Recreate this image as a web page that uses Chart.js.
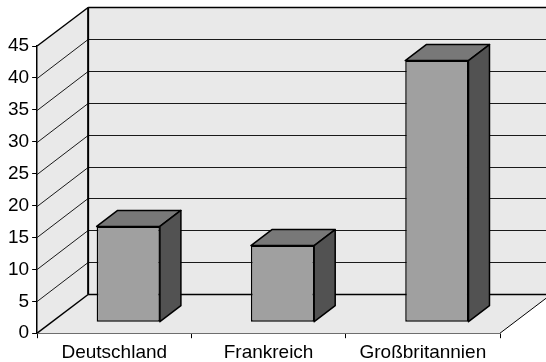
<!DOCTYPE html>
<html>
<head>
<meta charset="utf-8">
<script src="https://cdn.jsdelivr.net/npm/chart.js@4.4.1/dist/chart.umd.min.js"></script>
<style>
html, body { margin: 0; padding: 0; background: #ffffff; }
</style>
</head>
<body>
<canvas id="chart" width="546" height="362"></canvas>
<script>
var countries = ["Deutschland", "Frankreich", "Großbritannien"];
var values = [15, 12, 41];
var yMax = 45;
var yStep = 5;

// box depth (front plane -> back wall) and bar placement inside it
var depthX = 51, depthY = -39;
var barShiftX = 14, barShiftY = -11;
var barDepthX = 21, barDepthY = -16;

var wallColor = "#e9e9e9";
var barFront = "#a0a0a0";
var barTop = "#787878";
var barSide = "#525252";
var fontFamily = "'Liberation Sans', Arial, sans-serif";

function poly(ctx, pts) {
  ctx.beginPath();
  ctx.moveTo(pts[0][0], pts[0][1]);
  for (var i = 1; i < pts.length; i++) ctx.lineTo(pts[i][0], pts[i][1]);
  ctx.closePath();
}

function line(ctx, x1, y1, x2, y2) {
  ctx.beginPath();
  ctx.moveTo(x1, y1);
  ctx.lineTo(x2, y2);
  ctx.stroke();
}

// walls, floor and grid of the 3d box
var box3d = {
  id: "box3d",
  beforeDraw: function (chart) {
    var ctx = chart.ctx;
    var xs = chart.scales.x, ys = chart.scales.y;
    var left = xs.left, right = xs.right;
    var top = ys.getPixelForValue(yMax), bottom = ys.getPixelForValue(0);
    var farRight = chart.width + 10;

    ctx.save();
    ctx.fillStyle = wallColor;
    ctx.fillRect(left + depthX, top + depthY, farRight, bottom - top);
    poly(ctx, [[left, top], [left + depthX, top + depthY], [left + depthX, bottom + depthY], [left, bottom]]);
    ctx.fill();
    poly(ctx, [[left, bottom], [right, bottom], [right + depthX, bottom + depthY], [left + depthX, bottom + depthY]]);
    ctx.fill();

    // grid lines on back and side wall
    ctx.strokeStyle = "#1a1a1a";
    ctx.lineWidth = 1;
    for (var v = yStep; v < yMax; v += yStep) {
      var y = Math.round(ys.getPixelForValue(v)) + 0.5;
      line(ctx, left + depthX, y + depthY, farRight, y + depthY);
      line(ctx, left, y, left + depthX, y + depthY);
    }

    // box edges
    ctx.strokeStyle = "#000000";
    ctx.lineWidth = 1.5;
    var by = Math.round(bottom + depthY) + 0.5;
    var ty = Math.round(top + depthY) + 0.5;
    line(ctx, left + depthX, by, farRight, by);
    line(ctx, left + depthX, ty, farRight, ty);
    line(ctx, left, top, left + depthX, ty);
    line(ctx, left, bottom, left + depthX, by);
    ctx.lineWidth = 2;
    line(ctx, left + depthX, ty, left + depthX, by);
    ctx.lineWidth = 1;
    line(ctx, right, bottom, right + depthX, by);
    ctx.restore();
  },
  beforeDatasetsDraw: function (chart) {
    chart.ctx.save();
    chart.ctx.translate(barShiftX, barShiftY);
  },
  afterDatasetsDraw: function (chart) {
    var ctx = chart.ctx;
    var meta = chart.getDatasetMeta(0);
    ctx.lineWidth = 1.5;
    ctx.strokeStyle = "#000000";
    ctx.lineJoin = "round";
    meta.data.forEach(function (bar) {
      var x0 = bar.x - bar.width / 2, x1 = bar.x + bar.width / 2;
      var yt = bar.y, yb = bar.base;
      ctx.fillStyle = barTop;
      poly(ctx, [[x0, yt], [x1, yt], [x1 + barDepthX, yt + barDepthY], [x0 + barDepthX, yt + barDepthY]]);
      ctx.fill();
      ctx.stroke();
      ctx.fillStyle = barSide;
      poly(ctx, [[x1, yt], [x1 + barDepthX, yt + barDepthY], [x1 + barDepthX, yb + barDepthY], [x1, yb]]);
      ctx.fill();
      ctx.stroke();
    });
    ctx.restore();
  }
};

new Chart(document.getElementById("chart"), {
  type: "bar",
  data: {
    labels: countries,
    datasets: [{
      data: values,
      backgroundColor: barFront,
      borderColor: "#000000",
      borderWidth: 1.5,
      borderSkipped: false,
      categoryPercentage: 1,
      barPercentage: 0.41
    }]
  },
  options: {
    responsive: false,
    animation: false,
    layout: { padding: { top: 46, right: 46, left: 5, bottom: -5 } },
    plugins: {
      legend: { display: false },
      tooltip: { enabled: false }
    },
    scales: {
      x: {
        grid: { drawOnChartArea: false, tickLength: 5, color: "#000000" },
        border: { color: "#6e6e6e", width: 1 },
        ticks: { color: "#000000", padding: 3, font: { family: fontFamily, size: 19 } }
      },
      y: {
        min: 0,
        max: yMax,
        grid: { drawOnChartArea: false, tickLength: 5, color: "#000000" },
        border: { color: "#000000", width: 1.5 },
        ticks: { stepSize: yStep, color: "#000000", padding: 3, font: { family: fontFamily, size: 19 } }
      }
    }
  },
  plugins: [box3d]
});
</script>
</body>
</html>
